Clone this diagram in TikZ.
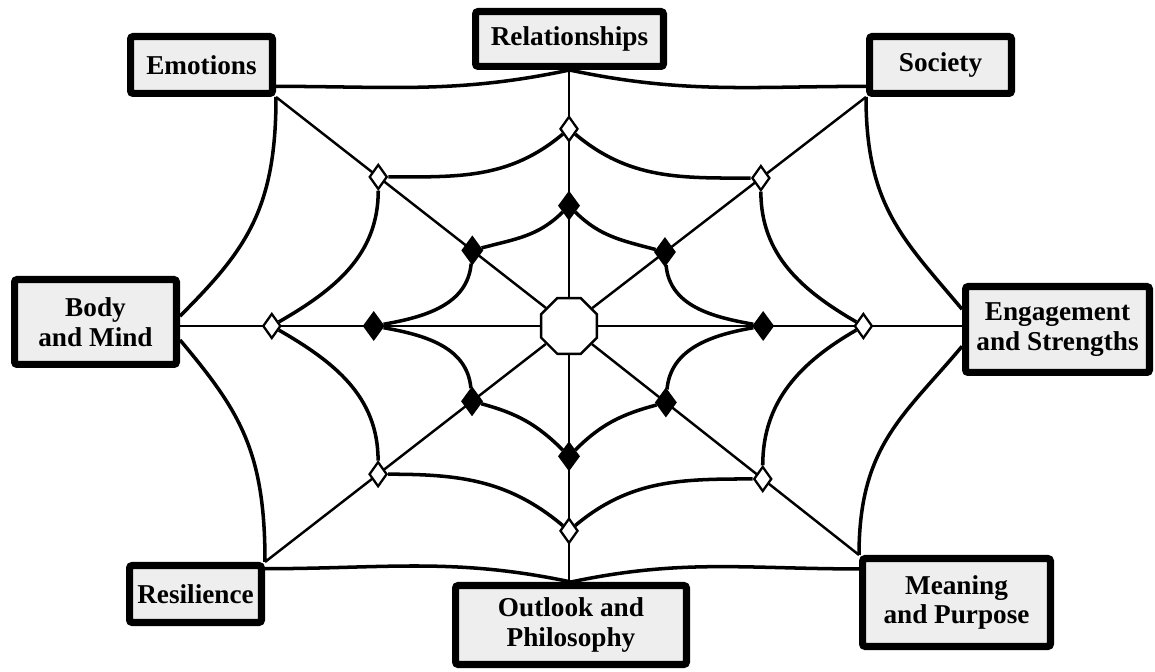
\documentclass[tikz,border=0pt]{standalone}
\usepackage{fontspec}
\setmainfont{Liberation Serif}
\usetikzlibrary{shapes.geometric,calc}
\definecolor{boxgray}{HTML}{EEEEEE}

\begin{document}
\begin{tikzpicture}[x=0.02cm,y=0.02cm]
            \tikzstyle{every node}+=[inner sep=0pt]
            \tikzstyle{topic}=[draw, line width=4pt, fill=boxgray, rounded corners=1.5pt, align=center, font=\bfseries\fontsize{15.5}{17}\selectfont]
            \tikzstyle{knot}=[diamond, draw, line width=1.3pt, fill=white, minimum width=0.36cm, minimum height=0.5cm]
            \tikzstyle{hardknot}=[knot, fill=black, minimum width=0.4cm, minimum height=0.54cm]
            \tikzstyle{spoke}=[line width=1.4pt]
            \tikzstyle{thread}=[line width=2pt]
            \useasboundingbox (0,0) rectangle (1155,672);
            \node [topic, minimum width=2.84cm, minimum height=1.14cm] (emo) at (201.5,607) {Emotions};
            \node [topic, minimum width=3.76cm, minimum height=1.10cm] (rel) at (569.5,633) {Relationships};
            \node [topic, minimum width=2.84cm, minimum height=1.14cm] (soc) at (940.5,607) {Society};
            \node [topic, minimum width=3.24cm, minimum height=1.70cm] (body) at (95.5,350) {Body\\and Mind};
            \node [topic, minimum width=3.68cm, minimum height=1.72cm] (eng) at (1057.5,342.5) {Engagement\\and Strengths};
            \node [topic, minimum width=2.64cm, minimum height=1.14cm] (res) at (195.5,78) {Resilience};
            \node [topic, minimum width=4.62cm, minimum height=1.58cm] (outl) at (571,47) {Outlook and\\Philosophy};
            \node [topic, minimum width=3.76cm, minimum height=1.76cm] (mean) at (956.5,69.5) {Meaning\\and Purpose};
            \node [regular polygon, regular polygon sides=8, draw, line width=1.4pt, fill=white, minimum size=1.21cm] (hub) at (569,346) {};
            \coordinate (nN) at (hub |- rel.south);
            \coordinate (nS) at (hub |- outl.north);
            \coordinate (nW) at (hub -| body.east);
            \coordinate (nE) at (hub -| eng.west);
            \draw [spoke] (hub) -- (nN);
            \draw [spoke] (hub) -- (nS);
            \draw [spoke] (hub) -- (nW);
            \draw [spoke] (hub) -- (nE);
            \draw [spoke] (hub) -- (emo.south east);
            \draw [spoke] (hub) -- (soc.south west);
            \draw [spoke] (hub) -- (res.north east);
            \draw [spoke] (hub) -- (mean.north west);
            \node [knot] (wN) at ($(hub)!0.77!(nN)$) {};
            \node [knot] (wS) at ($(hub)!0.80!(nS)$) {};
            \node [knot] (wW) at ($(hub)!0.764!(nW)$) {};
            \node [knot] (wE) at ($(hub)!0.749!(nE)$) {};
            \node [knot] (wNW) at ($(hub)!0.651!(emo.south east)$) {};
            \node [knot] (wNE) at ($(hub)!0.646!(soc.south west)$) {};
            \node [knot] (wSW) at ($(hub)!0.628!(res.north east)$) {};
            \node [knot] (wSE) at ($(hub)!0.668!(mean.north west)$) {};
            \node [hardknot] (fN) at ($(hub)!0.47!(nN)$) {};
            \node [hardknot] (fS) at ($(hub)!0.509!(nS)$) {};
            \node [hardknot] (fW) at ($(hub)!0.502!(nW)$) {};
            \node [hardknot] (fE) at ($(hub)!0.494!(nE)$) {};
            \node [hardknot] (fNW) at ($(hub)!0.33!(emo.south east)$) {};
            \node [hardknot] (fNE) at ($(hub)!0.323!(soc.south west)$) {};
            \node [hardknot] (fSW) at ($(hub)!0.319!(res.north east)$) {};
            \node [hardknot] (fSE) at ($(hub)!0.334!(mean.north west)$) {};
            \draw [thread] (emo.-16) to [out=0, in=192] (rel.south);
            \draw [thread] (rel.south) to [out=-12, in=180] (soc.196);
            \draw [thread] (emo.south east) to [out=-90, in=45, out looseness=1.2] (body.4);
            \draw [thread] (body.-12) to [out=-50, in=90, in looseness=1.2] (res.north east);
            \draw [thread] (res.20) to [out=0, in=168] (outl.north);
            \draw [thread] (outl.north) to [out=12, in=180] (mean.161);
            \draw [thread] (mean.north west) to [out=90, in=-130, out looseness=1.2] (eng.190);
            \draw [thread] (eng.168) to [out=130, in=-90, in looseness=1.2] (soc.south west);
            \draw [thread] (wNW) to [out=0, in=-140] (wN);
            \draw [thread] (wNE) to [out=180, in=-40] (wN);
            \draw [thread] (wNW) to [out=-90, in=30] (wW);
            \draw [thread] (wSW) to [out=90, in=-30] (wW);
            \draw [thread] (wNE) to [out=-90, in=150] (wE);
            \draw [thread] (wSE) to [out=90, in=-150] (wE);
            \draw [thread] (wSW) to [out=0, in=140] (wS);
            \draw [thread] (wSE) to [out=180, in=40] (wS);
            \draw [thread] (fNW) to [out=15, in=-135] (fN);
            \draw [thread] (fNE) to [out=165, in=-45] (fN);
            \draw [thread] (fNW) to [out=-95, in=10] (fW);
            \draw [thread] (fSW) to [out=95, in=-10] (fW);
            \draw [thread] (fNE) to [out=-85, in=170] (fE);
            \draw [thread] (fSE) to [out=85, in=190] (fE);
            \draw [thread] (fSW) to [out=-15, in=135] (fS);
            \draw [thread] (fSE) to [out=195, in=45] (fS);
        \end{tikzpicture}
\end{document}
